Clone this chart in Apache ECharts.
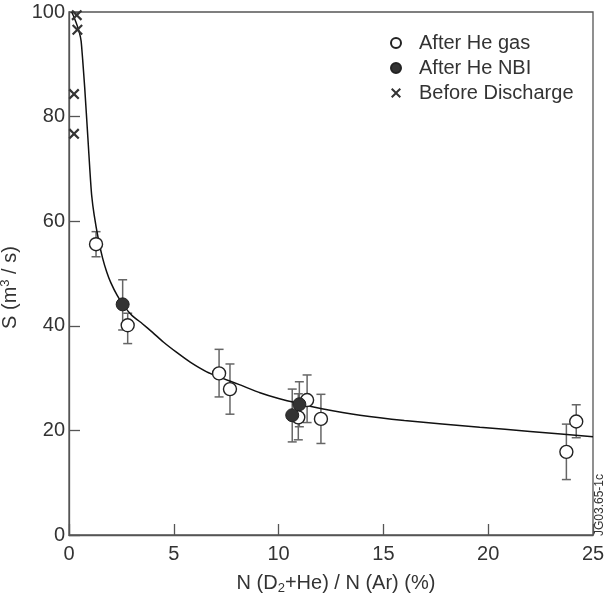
<!DOCTYPE html>
<html>
<head>
<meta charset="utf-8">
<script src="https://cdn.jsdelivr.net/npm/echarts@6/dist/echarts.min.js"></script>
<style>html,body{margin:0;padding:0;background:#fff;}#c{width:605px;height:601px;}</style>
</head>
<body>
<div id="c"></div>
<script>
// After He gas (open circles)
var gasX  = [1.29, 2.80, 7.16, 7.68, 10.94, 11.36, 12.02, 23.73, 24.20];
var gasY  = [55.6, 40.1, 30.9, 27.9, 22.5, 25.8, 22.2, 15.9, 21.7];
var gasLo = [53.2, 36.6, 26.4, 23.1, 18.2, 21.5, 17.5, 10.6, 18.6];
var gasHi = [58.0, 42.4, 35.5, 32.7, 27.0, 30.6, 26.9, 21.2, 24.9];
// After He NBI (filled circles)
var nbiX  = [2.56, 10.65, 10.99];
var nbiY  = [44.1, 22.9, 25.0];
var nbiLo = [39.2, 17.8, 20.7];
var nbiHi = [48.8, 27.9, 29.3];
// Before Discharge (crosses)
var befX = [0.37, 0.40, 0.24, 0.24];
var befY = [99.4, 96.6, 84.3, 76.7];
// Fitted curve
var fitX = [0.13, 0.25, 0.40, 0.50, 0.58, 0.65, 0.75, 0.90, 1.00, 1.08, 1.20, 1.40, 1.60, 1.80, 2.00, 2.30, 2.60, 3.00, 3.50, 4.00, 4.50, 5.14, 5.80, 6.57, 7.30, 8.16, 9.11, 10.00, 11.00, 12.00, 13.88, 16.00, 19.60, 22.00, 25.00];
var fitY = [100, 98.9, 97.3, 96.0, 94.4, 91.0, 85.5, 76.0, 69.5, 65.0, 61.2, 56.6, 53.0, 50.3, 48.2, 45.8, 43.9, 42.0, 40.4, 38.7, 36.9, 34.9, 33.0, 31.2, 30.0, 28.7, 27.2, 26.1, 25.1, 24.2, 22.9, 21.9, 20.6, 19.8, 18.8];
// Axis ticks
var xTicks = [0, 5, 10, 15, 20, 25];
var yTicks = [0, 20, 40, 60, 80, 100];
var seriesNames = ['After He gas', 'After He NBI', 'Before Discharge'];

function zip(a, b) { return a.map(function (v, i) { return [v, b[i]]; }); }
function zip3(a, b, c) { return a.map(function (v, i) { return [v, b[i], c[i]]; }); }

var crossPath = 'path://M0,0.14L0.14,0L0.5,0.36L0.86,0L1,0.14L0.64,0.5L1,0.86L0.86,1L0.5,0.64L0.14,1L0,0.86L0.36,0.5Z';
var FONT = '"Liberation Sans", Arial, Helvetica, sans-serif';
var TXT = '#333';
var AX = '#555';

function errRender(params, api) {
  var x = api.value(0), lo = api.value(1), hi = api.value(2);
  var p1 = api.coord([x, lo]), p2 = api.coord([x, hi]);
  var w = 4.5;
  var st = { stroke: '#666', lineWidth: 1.5 };
  return {
    type: 'group',
    children: [
      { type: 'line', shape: { x1: p1[0], y1: p1[1], x2: p2[0], y2: p2[1] }, style: st },
      { type: 'line', shape: { x1: p1[0] - w, y1: p1[1], x2: p1[0] + w, y2: p1[1] }, style: st },
      { type: 'line', shape: { x1: p2[0] - w, y1: p2[1], x2: p2[0] + w, y2: p2[1] }, style: st }
    ]
  };
}

var chart = echarts.init(document.getElementById('c'), null, { renderer: 'canvas' });
chart.setOption({
  animation: false,
  backgroundColor: '#fff',
  textStyle: { fontFamily: FONT, color: TXT },
  grid: { left: 69, right: 12, top: 12, bottom: 66, containLabel: false, outerBoundsMode: 'none',
          show: true, borderColor: AX, borderWidth: 1.3, backgroundColor: 'transparent' },
  legend: {
    orient: 'vertical',
    left: 385,
    top: 27,
    itemWidth: 10,
    itemHeight: 10,
    itemGap: 3,
    data: seriesNames,
    textStyle: { fontFamily: FONT, fontSize: 20, color: TXT, padding: [0, 0, 0, 13], lineHeight: 22 }
  },
  xAxis: {
    type: 'value', min: xTicks[0], max: xTicks[xTicks.length - 1], interval: 5,
    name: '{t|N (D}{sub|2}{t|+He) / N (Ar) (%)}',
    nameLocation: 'middle', nameGap: 36,
    nameTextStyle: {
      padding: [0, 0, 0, 10],
      rich: {
        t: { fontFamily: FONT, fontSize: 20, color: TXT },
        sub: { fontFamily: FONT, fontSize: 13, color: TXT, padding: [11, 0, 0, 0] }
      }
    },
    axisLine: { lineStyle: { color: AX, width: 1.3 } },
    axisTick: { inside: true, length: 11, lineStyle: { color: AX, width: 1.3 } },
    axisLabel: { margin: 9, fontSize: 20, color: TXT, fontFamily: FONT },
    splitLine: { show: false }
  },
  yAxis: {
    type: 'value', min: yTicks[0], max: yTicks[yTicks.length - 1], interval: 20,
    name: '{t|S (m}{sup|3}{t| / s)}',
    nameLocation: 'middle', nameGap: 37,
    nameTextStyle: {
      padding: [0, 28, 0, 0],
      rich: {
        t: { fontFamily: FONT, fontSize: 20, color: TXT },
        sup: { fontFamily: FONT, fontSize: 13, color: TXT, padding: [0, 0, 11, 0] }
      }
    },
    axisLine: { lineStyle: { color: AX, width: 1.3 } },
    axisTick: { inside: true, length: 11, lineStyle: { color: AX, width: 1.3 } },
    axisLabel: { margin: 4, fontSize: 20, color: TXT, fontFamily: FONT },
    splitLine: { show: false }
  },
  graphic: [
    { type: 'text', x: 600, y: 505, rotation: Math.PI / 2,
      style: { text: 'JG03.65-1c', fontFamily: FONT, fontSize: 12, fill: TXT, align: 'center', verticalAlign: 'middle' } }
  ],
  series: [
    { type: 'line', data: zip(fitX, fitY), showSymbol: false, symbol: 'none', smooth: 0.15,
      lineStyle: { color: '#111', width: 1.5 }, z: 2, silent: true, legendHoverLink: false },
    { type: 'custom', renderItem: errRender, data: zip3(gasX, gasLo, gasHi), z: 1, silent: true },
    { type: 'custom', renderItem: errRender, data: zip3(nbiX, nbiLo, nbiHi), z: 1, silent: true },
    { name: seriesNames[0], type: 'scatter', data: zip(gasX, gasY), symbol: 'circle', symbolSize: 13, z: 4,
      itemStyle: { color: '#fff', borderColor: '#222', borderWidth: 1.4, opacity: 1 } },
    { name: seriesNames[1], type: 'scatter', data: zip(nbiX, nbiY), symbol: 'circle', symbolSize: 13, z: 5,
      itemStyle: { color: '#333', borderColor: '#222', borderWidth: 1, opacity: 1 } },
    { name: seriesNames[2], type: 'scatter', data: zip(befX, befY), symbol: crossPath, symbolSize: 11, z: 5, clip: false,
      itemStyle: { color: '#333', opacity: 1 } }
  ]
});
</script>
</body>
</html>
